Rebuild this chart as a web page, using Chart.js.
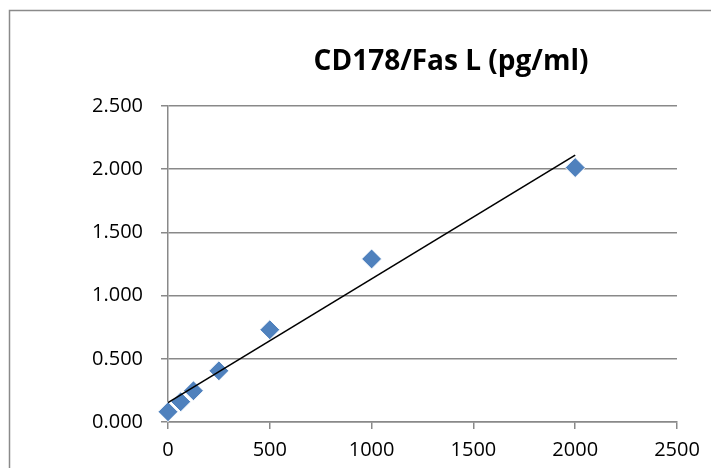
<!DOCTYPE html>
<html>
<head>
<meta charset="utf-8">
<script src="https://cdn.jsdelivr.net/npm/chart.js@4"></script>
<style>
  html, body { margin: 0; padding: 0; background: #fff; }
  #wrap { width: 711px; height: 468px; position: relative; }
</style>
</head>
<body>
<div id="wrap"><canvas id="chart"></canvas></div>
<script>
// standard curve data
const concentrations = [0, 62.5, 125, 250, 500, 1000, 2000];
const absorbance = [0.081, 0.160, 0.247, 0.405, 0.730, 1.290, 2.013];
const chartTitle = 'CD178/Fas L (pg/ml)';
const xTicks = [0, 500, 1000, 1500, 2000, 2500];
const yTicks = [0, 0.5, 1, 1.5, 2, 2.5];

// least squares fit for the trendline
function linearFit(xs, ys) {
    const n = xs.length;
    const mx = xs.reduce((a, b) => a + b, 0) / n;
    const my = ys.reduce((a, b) => a + b, 0) / n;
    let sxy = 0, sxx = 0;
    for (let i = 0; i < n; i++) {
        sxy += (xs[i] - mx) * (ys[i] - my);
        sxx += (xs[i] - mx) * (xs[i] - mx);
    }
    const slope = sxy / sxx;
    return { slope: slope, intercept: my - slope * mx };
}

const fit = linearFit(concentrations, absorbance);
const xMin = Math.min(...concentrations);
const xMax = Math.max(...concentrations);
const trendPoints = [
    { x: xMin, y: fit.intercept + fit.slope * xMin },
    { x: xMax, y: fit.intercept + fit.slope * xMax }
];

const gridGray = '#898989';
const fontFamily = "'Open Sans', 'Liberation Sans', sans-serif";

// outer frame + title
const framePlugin = {
    id: 'frame',
    beforeDraw(chart) {
        const ctx = chart.ctx;
        ctx.save();
        ctx.strokeStyle = '#8a8a8a';
        ctx.lineWidth = 1.5;
        ctx.strokeRect(9.5, 10.5, 800, 600);
        ctx.restore();
    },
    afterDraw(chart) {
        const ctx = chart.ctx;
        ctx.save();
        ctx.fillStyle = '#000';
        ctx.font = "bold 28px " + fontFamily;
        ctx.textAlign = 'center';
        ctx.textBaseline = 'middle';
        ctx.fillText(chartTitle, 451, 62);
        ctx.restore();
    }
};

new Chart(document.getElementById('chart'), {
    type: 'scatter',
    data: {
        datasets: [
            {
                type: 'line',
                label: 'Linear fit',
                data: trendPoints,
                borderColor: '#000',
                borderWidth: 1.6,
                pointRadius: 0,
                fill: false,
                clip: false,
                order: 0
            },
            {
                label: 'Standard',
                data: concentrations.map((c, i) => ({ x: c, y: absorbance[i] })),
                pointStyle: 'rectRot',
                pointRadius: 10,
                pointHoverRadius: 10,
                backgroundColor: '#4F81BD',
                borderColor: '#ffffff',
                borderWidth: 1,
                clip: false,
                order: 1
            }
        ]
    },
    options: {
        responsive: true,
        maintainAspectRatio: false,
        animation: false,
        layout: {
            padding: { left: 0, right: 34, top: 106, bottom: 0 }
        },
        plugins: {
            legend: { display: false },
            title: { display: false },
            tooltip: { enabled: false }
        },
        scales: {
            x: {
                type: 'linear',
                min: 0,
                max: 2500,
                afterBuildTicks: (axis) => { axis.ticks = xTicks.map(v => ({ value: v })); },
                afterFit: (axis) => { axis.height = 46; },
                grid: {
                    drawOnChartArea: false,
                    tickColor: gridGray,
                    tickLength: 7,
                    lineWidth: 1.5
                },
                border: { color: gridGray, width: 1.5 },
                ticks: {
                    color: '#000',
                    padding: 9,
                    maxRotation: 0,
                    font: { family: fontFamily, size: 20 },
                    callback: (v) => String(v)
                }
            },
            y: {
                min: 0,
                max: 2.5,
                afterBuildTicks: (axis) => { axis.ticks = yTicks.map(v => ({ value: v })); },
                afterFit: (axis) => { axis.width = 168; },
                grid: {
                    color: gridGray,
                    tickColor: gridGray,
                    tickLength: 7,
                    lineWidth: 1.5
                },
                border: { color: gridGray, width: 1.5 },
                ticks: {
                    color: '#000',
                    padding: 18,
                    font: { family: fontFamily, size: 20 },
                    callback: (v) => Number(v).toFixed(3)
                }
            }
        }
    },
    plugins: [framePlugin]
});
</script>
</body>
</html>
